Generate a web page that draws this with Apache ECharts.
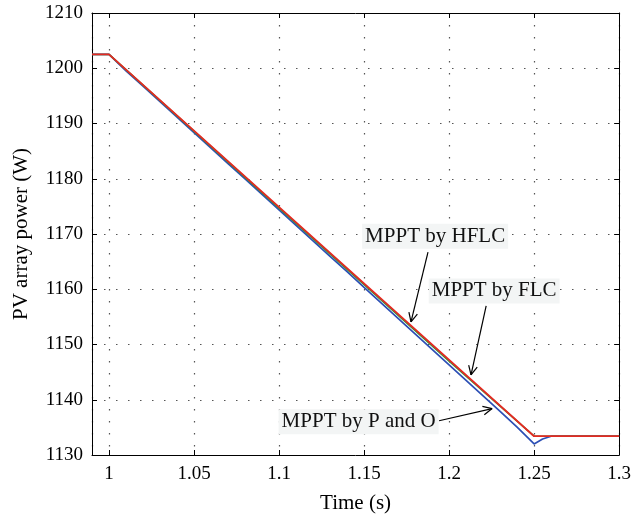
<!DOCTYPE html>
<html><head><meta charset="utf-8">
<script src="https://cdn.jsdelivr.net/npm/echarts@6/dist/echarts.min.js"></script>
<style>html,body{margin:0;padding:0;background:#fff}#c{width:634px;height:521px}</style>
</head><body><div id="c"></div>
<script>
// ---- data ----
const timeHFLC = [0.99, 1.0, 1.25, 1.3];
const powerHFLC = [1202.5, 1202.5, 1133.4, 1133.4];

const timeFLC = [0.99, 1.0, 1.1, 1.2, 1.25, 1.3];
const powerFLC = [1202.5, 1202.5, 1174.7, 1147.0, 1133.4, 1133.4];

const timePO = [0.99, 1.0, 1.01, 1.02, 1.03, 1.04, 1.05, 1.06, 1.07, 1.08, 1.09, 1.10, 1.11, 1.12, 1.13, 1.14, 1.15, 1.16, 1.17, 1.18, 1.19, 1.20, 1.21, 1.22, 1.23, 1.24, 1.25, 1.255, 1.26, 1.3];
const powerPO = [1202.5, 1202.5, 1199.54, 1196.75, 1193.96, 1191.16, 1188.33, 1185.55, 1182.75, 1179.96, 1177.16, 1174.36, 1171.56, 1168.77, 1165.97, 1163.17, 1160.34, 1157.54, 1154.73, 1151.93, 1149.12, 1146.32, 1143.52, 1140.71, 1137.9, 1135.06, 1132.0, 1132.9, 1133.4, 1133.4];

const annotText = ['MPPT by HFLC', 'MPPT by FLC', 'MPPT by P and O'];
const annotPos = [[1.1918, 1169.6], [1.2265, 1159.7], [1.1468, 1136.0]];
const arrowFrom = [[1.1876, 1166.7], [1.2218, 1157.0], [1.1941, 1136.2]];
const arrowTo = [[1.1776, 1154.1], [1.2129, 1144.5], [1.2253, 1138.4]];

const xMin = 0.99, xMax = 1.3, yMin = 1130, yMax = 1210, yStep = 10;

// ---- chart ----
const FONT = 'Liberation Serif';
const zip = (a, b) => a.map((v, i) => [v, b[i]]);
const chart = echarts.init(document.getElementById('c'), null, {renderer: 'canvas'});

const dotted = {show: true, lineStyle: {color: '#555', width: 1.2, type: [1.5, 10.5]}};
const axisLine = {show: true, onZero: false, lineStyle: {color: '#000', width: 1}};
const tick = {show: true, inside: true, length: 5, lineStyle: {color: '#000'}};

chart.setOption({
  animation: false,
  backgroundColor: '#fff',
  grid: {left: 92, right: 13, top: 13, bottom: 66},
  xAxis: [
    {type: 'value', min: xMin, max: xMax, splitNumber: 6, position: 'bottom',
     axisLine, axisTick: tick, splitLine: dotted,
     axisLabel: {showMinLabel: false, color: '#000', fontFamily: FONT, fontSize: 19, margin: 10,
       formatter: v => String(+v.toFixed(2))},
     name: 'Time (s)', nameLocation: 'middle', nameGap: 38,
     nameTextStyle: {color: '#000', fontFamily: FONT, fontSize: 21}},
    {type: 'value', min: xMin, max: xMax, splitNumber: 6, position: 'top',
     axisLine, axisTick: tick, splitLine: {show: false}, axisLabel: {show: false}}
  ],
  yAxis: [
    {type: 'value', min: yMin, max: yMax, interval: yStep, position: 'left',
     axisLine, axisTick: tick, splitLine: dotted,
     axisLabel: {color: '#000', fontFamily: FONT, fontSize: 19, margin: 9, formatter: v => String(v)},
     name: 'PV array power (W)', nameLocation: 'middle', nameGap: 60,
     nameTextStyle: {color: '#000', fontFamily: FONT, fontSize: 21}},
    {type: 'value', min: yMin, max: yMax, interval: yStep, position: 'right',
     axisLine, axisTick: tick, splitLine: {show: false}, axisLabel: {show: false}}
  ],
  series: [
    {name: 'MPPT by P and O', type: 'line', data: zip(timePO, powerPO), showSymbol: false,
     lineStyle: {color: '#2c4fb5', width: 1.7}, z: 2},
    {name: 'MPPT by FLC', type: 'line', data: zip(timeFLC, powerFLC), showSymbol: false,
     lineStyle: {color: '#2a9a3c', width: 1.6}, z: 3},
    {name: 'MPPT by HFLC', type: 'line', data: zip(timeHFLC, powerHFLC), showSymbol: false,
     lineStyle: {color: '#e42a22', width: 1.8}, z: 4}
  ]
});

function drawAnnotations() {
  const els = [];
  const px = p => chart.convertToPixel({gridIndex: 0}, p);
  annotText.forEach((t, i) => {
    const c = px(annotPos[i]);
    els.push({type: 'text', z: 100, x: c[0], y: c[1],
      style: {text: t, align: 'center', verticalAlign: 'middle', fill: '#111',
        font: '21px "Liberation Serif"', backgroundColor: '#f3f5f5', padding: [2, 3]}});
    const a = px(arrowFrom[i]), b = px(arrowTo[i]);
    els.push({type: 'line', z: 101, shape: {x1: a[0], y1: a[1], x2: b[0], y2: b[1]},
      style: {stroke: '#000', lineWidth: 1.2}});
    const ang = Math.atan2(b[1] - a[1], b[0] - a[0]);
    const L = 10, sp = 0.45;
    [ang + Math.PI - sp, ang + Math.PI + sp].forEach(t2 => {
      els.push({type: 'line', z: 101, shape: {x1: b[0], y1: b[1], x2: b[0] + L * Math.cos(t2), y2: b[1] + L * Math.sin(t2)},
        style: {stroke: '#000', lineWidth: 1.2}});
    });
  });
  chart.setOption({graphic: {elements: els}});
}
drawAnnotations();
</script>
</body></html>
